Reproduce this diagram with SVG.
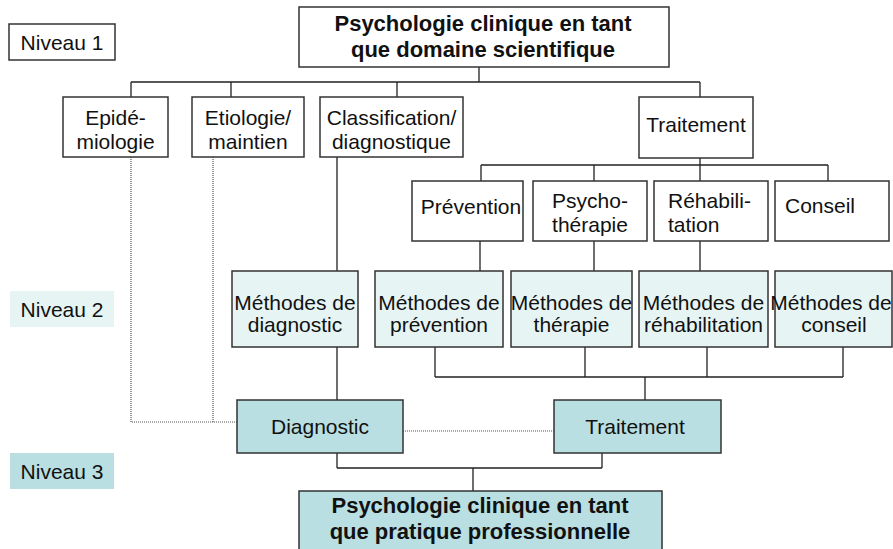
<svg xmlns="http://www.w3.org/2000/svg" width="893" height="549" viewBox="0 0 893 549">
<style>
  .box { fill: #ffffff; stroke: #333333; stroke-width: 1.5; }
  .m { fill: #e6f4f4; stroke: #333333; stroke-width: 1.5; }
  .d { fill: #b9dfe2; stroke: #333333; stroke-width: 1.5; }
  .ln { fill: none; stroke: #222222; stroke-width: 1.3; }
  .dot { fill: none; stroke: #555555; stroke-width: 1.2; stroke-dasharray: 1 1; }
  text { font-family: "Liberation Sans", Arial, sans-serif; font-size: 21px; fill: #111111; }
  .c { text-anchor: middle; }
  .b { font-weight: bold; font-size: 22px; }
</style>
<rect width="893" height="549" fill="#ffffff"/>

<g id="connectors">
  <path class="ln" d="M479 67 V82 M131 82 H700 M131 82 V97 M231 82 V97 M397 82 V97 M700 82 V97"/>
  <path class="ln" d="M700 158 V165 M481 165 H828 M481 165 V181 M594 165 V181 M700 165 V181 M828 165 V181"/>
  <path class="ln" d="M337 157 V271 M337 347 V400"/>
  <path class="ln" d="M480 241 V271 M594 241 V271 M700 241 V271"/>
  <path class="ln" d="M435 347 V377 M585 347 V377 M707 347 V377 M843 347 V377 M435 377 H843 M645 377 V400"/>
  <path class="ln" d="M337 453 V468 M602 453 V468 M337 468 H602 M473 468 V491"/>
  <path class="dot" d="M131 157 V422 H237 M213 157 V422 M403 431 H554"/>
</g>

<g id="niveau1"><rect class="box" x="9" y="24" width="106" height="36"/><text class="c" x="62" y="50">Niveau 1</text></g>
<g id="niveau2"><rect x="10" y="291" width="104" height="36" fill="#e6f4f4"/><text class="c" x="62" y="317">Niveau 2</text></g>
<g id="niveau3"><rect x="10" y="453" width="104" height="36" fill="#b9dfe2"/><text class="c" x="62" y="479">Niveau 3</text></g>

<g id="top"><rect class="box" x="299" y="7" width="370" height="60"/>
  <text class="c b" x="483" y="31">Psychologie clinique en tant</text>
  <text class="c b" x="483" y="57">que domaine scientifique</text></g>

<g id="epidemiologie"><rect class="box" x="63" y="97" width="105" height="60"/>
  <text class="c" x="115.5" y="125">Epidé-</text><text class="c" x="115.5" y="149">miologie</text></g>
<g id="etiologie"><rect class="box" x="192" y="97" width="112" height="60"/>
  <text class="c" x="248" y="125">Etiologie/</text><text class="c" x="248" y="149">maintien</text></g>
<g id="classification"><rect class="box" x="320" y="97" width="143" height="60"/>
  <text class="c" x="391.5" y="125">Classification/</text><text class="c" x="391.5" y="149">diagnostique</text></g>
<g id="traitement1"><rect class="box" x="639" y="97" width="114" height="61"/>
  <text class="c" x="696" y="132">Traitement</text></g>

<g id="prevention"><rect class="box" x="412" y="181" width="111" height="60"/>
  <text class="c" x="471" y="214">Prévention</text></g>
<g id="psychotherapie"><rect class="box" x="533" y="181" width="114" height="60"/>
  <text class="c" x="590" y="208">Psycho-</text><text class="c" x="590" y="232">thérapie</text></g>
<g id="rehabilitation"><rect class="box" x="654" y="181" width="114" height="60"/>
  <text x="668" y="208">Réhabili-</text><text x="668" y="232">tation</text></g>
<g id="conseil"><rect class="box" x="775" y="181" width="114" height="60"/>
  <text x="785" y="213">Conseil</text></g>

<g id="m-diagnostic"><rect class="m" x="232" y="271" width="126" height="76"/>
  <text class="c" x="295" y="310">Méthodes de</text><text class="c" x="295" y="332">diagnostic</text></g>
<g id="m-prevention"><rect class="m" x="375" y="271" width="128" height="76"/>
  <text class="c" x="439" y="310">Méthodes de</text><text class="c" x="439" y="332">prévention</text></g>
<g id="m-therapie"><rect class="m" x="511" y="271" width="121" height="76"/>
  <text class="c" x="571.5" y="310">Méthodes de</text><text class="c" x="571.5" y="332">thérapie</text></g>
<g id="m-rehabilitation"><rect class="m" x="639" y="271" width="129" height="76"/>
  <text class="c" x="703.5" y="310">Méthodes de</text><text class="c" x="703.5" y="332">réhabilitation</text></g>
<g id="m-conseil"><rect class="m" x="775" y="271" width="117" height="76"/>
  <text class="c" x="831" y="310">Méthodes de</text><text class="c" x="834" y="332">conseil</text></g>

<g id="diagnostic"><rect class="d" x="237" y="400" width="166" height="53"/>
  <text class="c" x="320" y="434">Diagnostic</text></g>
<g id="traitement2"><rect class="d" x="554" y="400" width="167" height="53"/>
  <text class="c" x="635" y="434">Traitement</text></g>

<g id="bottom"><rect class="d" x="299" y="491" width="363" height="70"/>
  <text class="c b" x="480" y="513">Psychologie clinique en tant</text>
  <text class="c b" x="480" y="539">que pratique professionnelle</text></g>
</svg>
